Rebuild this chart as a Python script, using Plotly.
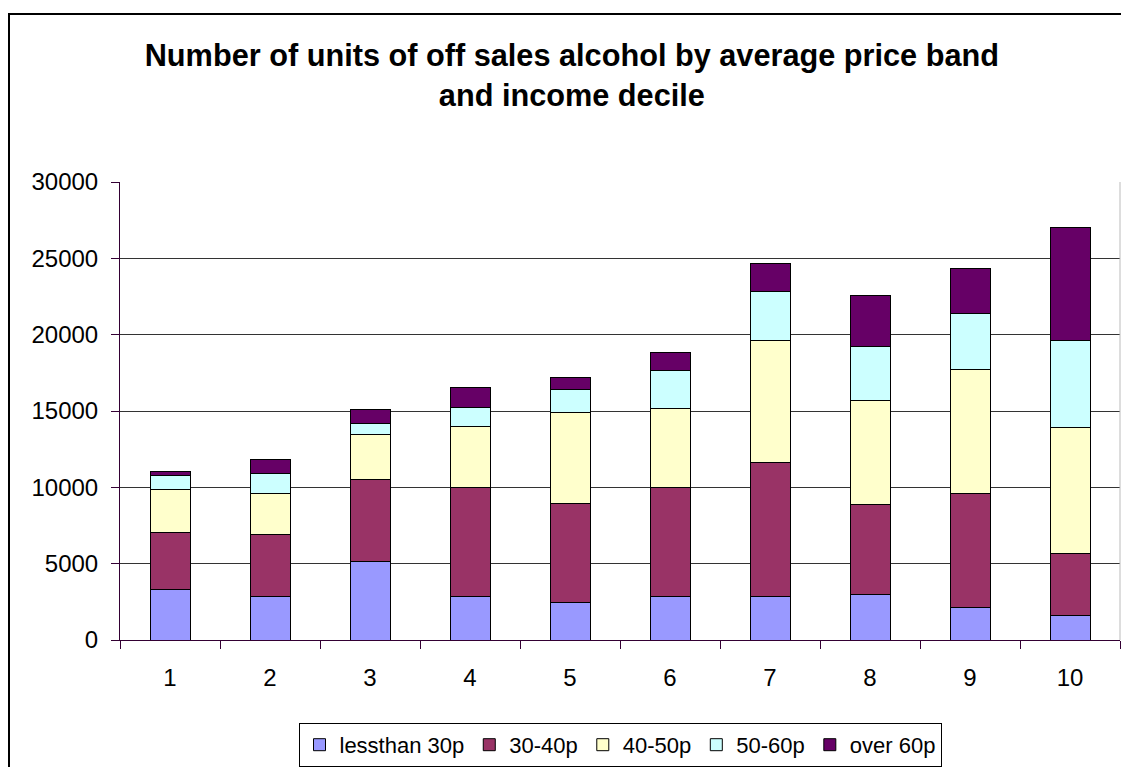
import plotly.graph_objects as go

deciles = ["1", "2", "3", "4", "5", "6", "7", "8", "9", "10"]
less_than_30p = [3340, 2860, 5120, 2870, 2480, 2870, 2880, 3010, 2120, 1590]
p30_40 = [3710, 4060, 5400, 7090, 6480, 7090, 8750, 5850, 7480, 4080]
p40_50 = [2830, 2680, 2940, 4030, 5940, 5180, 8010, 6830, 8140, 8250]
p50_60 = [900, 1300, 750, 1260, 1500, 2520, 3160, 3560, 3670, 5720]
over_60p = [260, 900, 920, 1280, 780, 1180, 1830, 3320, 2950, 7370]

series = [
    ("lessthan 30p", less_than_30p, "#9999FF"),
    ("30-40p", p30_40, "#993366"),
    ("40-50p", p40_50, "#FFFFCC"),
    ("50-60p", p50_60, "#CCFFFF"),
    ("over 60p", over_60p, "#660066"),
]

fig = go.Figure()
for name, vals, col in series:
    fig.add_trace(go.Bar(
        x=deciles, y=vals, name=name,
        marker=dict(color=col, line=dict(color="black", width=1)),
    ))

FONT = "Liberation Sans, Arial, sans-serif"
fig.update_layout(
    barmode="stack",
    bargap=0.6,
    width=1121, height=759,
    margin=dict(l=112, r=9, t=174, b=127, autoexpand=False),
    paper_bgcolor="white",
    plot_bgcolor="white",
    font=dict(family=FONT, size=24, color="black"),
    title=dict(
        text="<b>Number of units of off sales alcohol by average price band<br>and income decile</b>",
        x=0.503, xanchor="center", y=0.924, yanchor="top",
        font=dict(family=FONT, size=30.7, color="black"),
    ),
    xaxis=dict(
        type="category",
        tickson="boundaries",
        ticks="outside", ticklen=8, tickcolor="#330033",
        showline=True, linecolor="#330033", linewidth=1,
        showgrid=False,
        tickfont=dict(size=24),
        ticklabelstandoff=16,
    ),
    yaxis=dict(
        range=[0, 30000],
        tickvals=[0, 5000, 10000, 15000, 20000, 25000, 30000],
        ticktext=["0", "5000", "10000", "15000", "20000", "25000", "30000"],
        ticks="outside", ticklen=8, tickcolor="#330033",
        showline=True, linecolor="#330033", linewidth=1,
        showgrid=True, gridcolor="#333333", gridwidth=1,
        zeroline=False,
        tickfont=dict(size=24),
        ticklabelstandoff=8,
    ),
    legend=dict(
        orientation="h",
        x=0.50, xanchor="center",
        y=-0.181, yanchor="top",
        bordercolor="black", borderwidth=1,
        font=dict(size=22),
        traceorder="normal",
        itemwidth=30,
    ),
    shapes=[
        dict(type="rect", xref="paper", yref="paper",
             x0=-0.111, x1=1.02, y0=-0.30, y1=1 + 168 / 458,
             line=dict(color="black", width=2), fillcolor="rgba(0,0,0,0)", layer="above"),
        dict(type="line", xref="paper", yref="paper",
             x0=1, x1=1, y0=0, y1=1, line=dict(color="#bbbbbb", width=1)),
    ],
)

fig.write_html("out.html")
